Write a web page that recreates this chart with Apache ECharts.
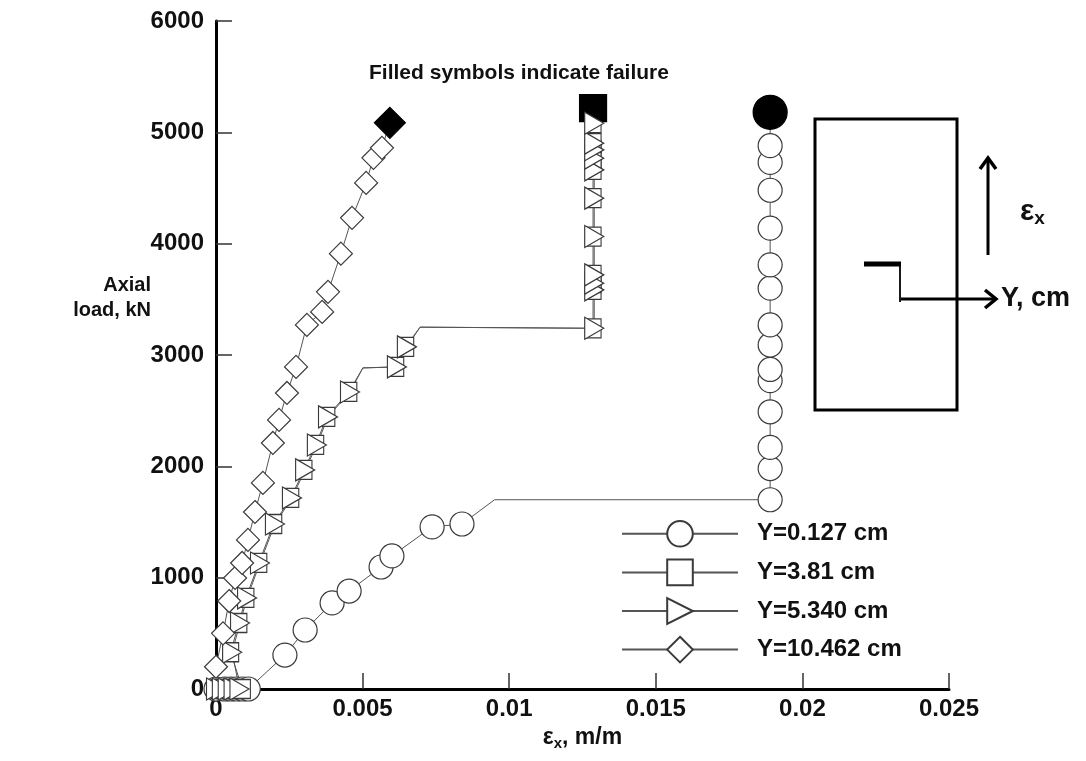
<!DOCTYPE html>
<html><head><meta charset="utf-8">
<script src="https://cdn.jsdelivr.net/npm/echarts@6/dist/echarts.min.js"></script>
<style>html,body{margin:0;padding:0;background:#fff}#c{width:1086px;height:761px}</style>
</head><body><div id="c"></div>
<script>
// ---- data ----
const seriesNames = ['Y=0.127 cm', 'Y=3.81 cm', 'Y=5.340 cm', 'Y=10.462 cm'];
const xTickValues = [0, 0.005, 0.01, 0.015, 0.02, 0.025];
const yTickValues = [0, 1000, 2000, 3000, 4000, 5000, 6000];

const circleX = [0, 0.0003, 0.0005, 0.0007, 0.0009, 0.0011, 0.00235, 0.00304, 0.00396, 0.00454, 0.00563, 0.0060, 0.00737, 0.00839, 0.0095,
  0.0189, 0.0189, 0.0189, 0.0189, 0.0189, 0.0189, 0.0189, 0.0189, 0.0189, 0.0189, 0.0189, 0.0189, 0.0189, 0.0189, 0.0189];
const circleY = [0, 0, 0, 0, 0, 0, 305, 530, 773, 880, 1096, 1195, 1456, 1482, 1700,
  1700, 1980, 2170, 2490, 2770, 2870, 3090, 3270, 3600, 3810, 4140, 4480, 4730, 4880, 5180];
const circleBends = [14];

const squareX = [0.0001, 0.0003, 0.0005, 0.0007, 0.0009, 0.0005, 0.00078, 0.00102, 0.00146, 0.00197, 0.00255, 0.0030, 0.0034, 0.00378, 0.00453, 0.00501, 0.00613, 0.00647, 0.00696,
  0.01286, 0.01286, 0.01286, 0.01286, 0.01286, 0.01286, 0.01286, 0.01286, 0.01286, 0.01286, 0.01286, 0.01286];
const squareY = [0, 0, 0, 0, 0, 330, 593, 818, 1132, 1482, 1716, 1968, 2192, 2444, 2668, 2884, 2893, 3073, 3250,
  3240, 3585, 3645, 3720, 4064, 4409, 4663, 4768, 4843, 4903, 5082, 5217];
const squareBends = [15, 18];

const triangleX = [0, 0.0002, 0.0004, 0.0006, 0.0008, 0.00055, 0.00082, 0.00106, 0.0015, 0.00201, 0.00259, 0.00304, 0.00344, 0.00382, 0.00457, 0.00501, 0.00617, 0.00651, 0.00696,
  0.0129, 0.0129, 0.0129, 0.0129, 0.0129, 0.0129, 0.0129, 0.0129, 0.0129, 0.0129, 0.0129];
const triangleY = [0, 0, 0, 0, 0, 330, 593, 818, 1132, 1482, 1716, 1968, 2192, 2444, 2668, 2884, 2893, 3073, 3250,
  3240, 3585, 3645, 3720, 4064, 4409, 4663, 4768, 4843, 4903, 5082];
const triangleBends = [15, 18];

const diamondX = [0, 0.00024, 0.00045, 0.00065, 0.00089, 0.00109, 0.00133, 0.0016, 0.00194, 0.00215, 0.00242, 0.00273, 0.0031, 0.00362, 0.00382, 0.00426, 0.00464, 0.00512, 0.00537, 0.00566, 0.00593];
const diamondY = [200, 500, 790, 997, 1132, 1339, 1590, 1851, 2210, 2417, 2659, 2893, 3270, 3387, 3567, 3910, 4232, 4546, 4771, 4861, 5085];
const diamondBends = [];

// ---- chart ----
const FONT = '"Liberation Sans", Arial, sans-serif';
const LINE = '#555';
const EDGE = '#3a3a3a';

function build(xs, ys, bends, filled, filledSize) {
  return xs.map((x, i) => {
    const it = { value: [x, ys[i]] };
    if (bends.includes(i)) it.symbol = 'none';
    if (filled && i === xs.length - 1) {
      it.itemStyle = { color: '#000', borderColor: '#000' };
      it.symbolSize = filledSize;
    }
    return it;
  });
}

function mkSeries(name, data, symbol, size, rot) {
  return {
    name, type: 'line', data, symbol, symbolSize: size, symbolRotate: rot || 0,
    showAllSymbol: true, clip: false, animation: false,
    lineStyle: { color: LINE, width: 1 },
    itemStyle: { color: '#fff', borderColor: EDGE, borderWidth: 1.2 },
    emphasis: { disabled: true }
  };
}

const plain = v => String(v);

const chart = echarts.init(document.getElementById('c'), null, { renderer: 'canvas' });
chart.setOption({
  animation: false,
  backgroundColor: '#fff',
  grid: { left: 216, right: 137, top: 21, bottom: 72, containLabel: false },
  xAxis: {
    type: 'value', min: xTickValues[0], max: xTickValues[xTickValues.length - 1],
    interval: xTickValues[1] - xTickValues[0],
    axisLine: { onZero: false, lineStyle: { color: '#000', width: 3 } },
    axisTick: { inside: true, length: 16, lineStyle: { color: '#333', width: 1.5 } },
    splitLine: { show: false },
    axisLabel: { fontSize: 24, fontWeight: 'bold', color: '#111', fontFamily: FONT, margin: 8, formatter: plain },
    name: '{e|ε}{s|x}{e|, m/m}', nameLocation: 'middle', nameGap: 28,
    nameTextStyle: {
      rich: {
        e: { fontSize: 23, fontWeight: 'bold', color: '#111', fontFamily: FONT },
        s: { fontSize: 15, fontWeight: 'bold', color: '#111', fontFamily: FONT, padding: [12, 0, 0, 0] }
      }
    }
  },
  yAxis: {
    type: 'value', min: yTickValues[0], max: yTickValues[yTickValues.length - 1],
    interval: yTickValues[1] - yTickValues[0],
    axisLine: { onZero: false, lineStyle: { color: '#000', width: 3 } },
    axisTick: { inside: true, length: 16, lineStyle: { color: '#333', width: 1.5 } },
    splitLine: { show: false },
    axisLabel: { fontSize: 24, fontWeight: 'bold', color: '#111', fontFamily: FONT, margin: 12, formatter: plain }
  },
  legend: {
    orient: 'vertical', left: 616, top: 515,
    itemWidth: 116, itemHeight: 32, itemGap: 11,
    data: seriesNames,
    textStyle: { fontSize: 24, fontWeight: 'bold', color: '#111', fontFamily: FONT, padding: [0, 0, 0, 14] },
    selectedMode: false
  },
  series: [
    mkSeries(seriesNames[0], build(circleX, circleY, circleBends, true, 34), 'circle', 24),
    mkSeries(seriesNames[1], build(squareX, squareY, squareBends, true, 27), 'rect', [16, 19]),
    mkSeries(seriesNames[2], build(triangleX, triangleY, triangleBends, false), 'triangle', [22, 19], -90),
    mkSeries(seriesNames[3], build(diamondX, diamondY, diamondBends, true, 31), 'diamond', 23)
  ],
  graphic: [
    { type: 'text', x: 519, y: 73, style: { text: 'Filled symbols indicate failure', align: 'center', verticalAlign: 'middle', fill: '#111', font: 'bold 21px ' + FONT } },
    { type: 'text', x: 151, y: 285, style: { text: 'Axial', align: 'right', verticalAlign: 'middle', fill: '#111', font: 'bold 20px ' + FONT } },
    { type: 'text', x: 151, y: 310, style: { text: 'load, kN', align: 'right', verticalAlign: 'middle', fill: '#111', font: 'bold 20px ' + FONT } },
    // inset sketch
    { type: 'rect', shape: { x: 815, y: 119, width: 142, height: 291 }, style: { fill: 'none', stroke: '#000', lineWidth: 3 } },
    { type: 'line', shape: { x1: 864, y1: 264, x2: 901, y2: 264 }, style: { stroke: '#000', lineWidth: 5 } },
    { type: 'line', shape: { x1: 900, y1: 264, x2: 900, y2: 302 }, style: { stroke: '#000', lineWidth: 1.8 } },
    { type: 'line', shape: { x1: 901, y1: 299, x2: 996, y2: 299 }, style: { stroke: '#000', lineWidth: 3 } },
    { type: 'polyline', shape: { points: [[985, 290], [996, 299], [985, 308]] }, style: { fill: 'none', stroke: '#000', lineWidth: 3.5 } },
    { type: 'line', shape: { x1: 988, y1: 255, x2: 988, y2: 159 }, style: { stroke: '#000', lineWidth: 3 } },
    { type: 'polyline', shape: { points: [[980, 169], [988, 158], [996, 169]] }, style: { fill: 'none', stroke: '#000', lineWidth: 3.5 } },
    { type: 'text', x: 1001, y: 299, style: { text: 'Y, cm', verticalAlign: 'middle', fill: '#111', font: 'bold 27px ' + FONT } },
    { type: 'text', x: 1020, y: 212, style: {
        text: '{e|ε}{s|x}', verticalAlign: 'middle',
        rich: {
          e: { fontSize: 30, fontWeight: 'bold', fill: '#111', fontFamily: FONT },
          s: { fontSize: 19, fontWeight: 'bold', fill: '#111', fontFamily: FONT, padding: [14, 0, 0, 0] }
        } } }
  ]
});
</script></body></html>
